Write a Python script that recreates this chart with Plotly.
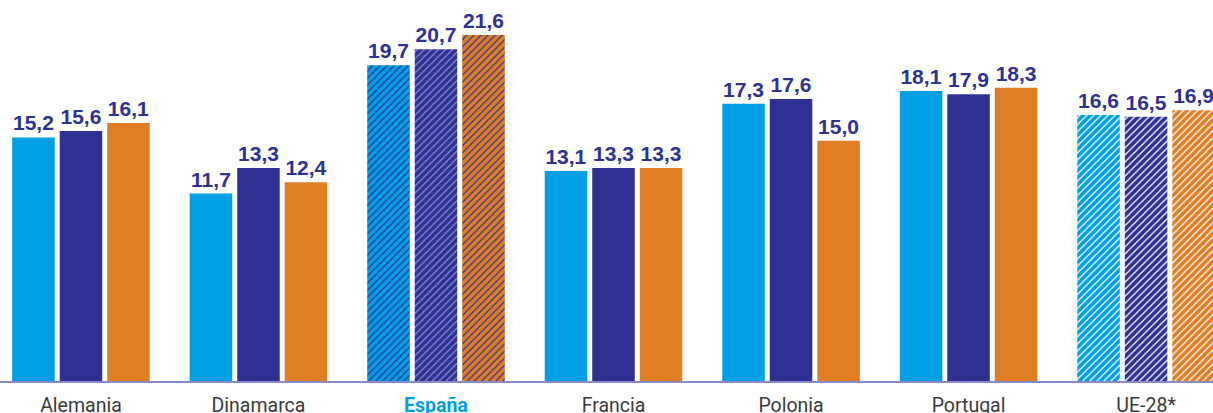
import plotly.graph_objects as go

# Categories and series values
paises = ["Alemania", "Dinamarca", "España", "Francia", "Polonia", "Portugal", "UE-28*"]
serie_1 = [15.2, 11.7, 19.7, 13.1, 17.3, 18.1, 16.6]
serie_2 = [15.6, 13.3, 20.7, 13.3, 17.6, 17.9, 16.5]
serie_3 = [16.1, 12.4, 21.6, 13.3, 15.0, 18.3, 16.9]

AZUL = "#009FE3"
MARINO = "#2E3192"
NARANJA = "#E07E26"

etiquetas = [
    "<b><span style='color:#009FE3'>España</span></b>" if p == "España" else p
    for p in paises
]

# Hatching: España with coloured stripes, UE-28* with white stripes
def trama(franja_espana):
    formas, colores = [], []
    for p in paises:
        if p == "España":
            formas.append("/")
            colores.append(franja_espana)
        elif p == "UE-28*":
            formas.append("/")
            colores.append("#FFFFFF")
        else:
            formas.append("")
            colores.append("#FFFFFF")
    return formas, colores

series = [
    ("serie_1", serie_1, AZUL, MARINO),
    ("serie_2", serie_2, MARINO, "#8C8CD6"),
    ("serie_3", serie_3, NARANJA, MARINO),
]

fig = go.Figure()
x_idx = list(range(len(paises)))
for nombre, valores, color, franja in series:
    formas, colores = trama(franja)
    fig.add_trace(go.Bar(
        name=nombre,
        x=x_idx,
        y=valores,
        marker=dict(
            color=color,
            line=dict(width=0),
            pattern=dict(shape=formas, fgcolor=colores, bgcolor=color,
                         size=5, solidity=0.25, fillmode="replace"),
        ),
        texttemplate="%{y:.1f}",
        textposition="outside",
        textfont=dict(family="Liberation Sans", size=21, color=MARINO, weight="bold"),
        cliponaxis=False,
        showlegend=False,
    ))

fig.update_layout(
    width=1213,
    height=413,
    margin=dict(l=0, r=0, t=0, b=32, autoexpand=False),
    paper_bgcolor="white",
    plot_bgcolor="white",
    barmode="group",
    bargap=0.197,
    bargroupgap=0.105,
    separators=",.",
    xaxis=dict(
        tickmode="array",
        tickvals=x_idx,
        ticktext=etiquetas,
        range=[-0.456, 6.377],
        showline=True,
        linecolor="#8A8AC8",
        linewidth=2,
        ticks="",
        ticklabelstandoff=6,
        automargin=False,
        tickfont=dict(family="Roboto", size=19.5, color="#3A3A3A"),
        showgrid=False,
        zeroline=False,
    ),
    yaxis=dict(
        range=[0, 23.78],
        visible=False,
        showgrid=False,
        zeroline=False,
    ),
)

fig.write_html("out.html")
